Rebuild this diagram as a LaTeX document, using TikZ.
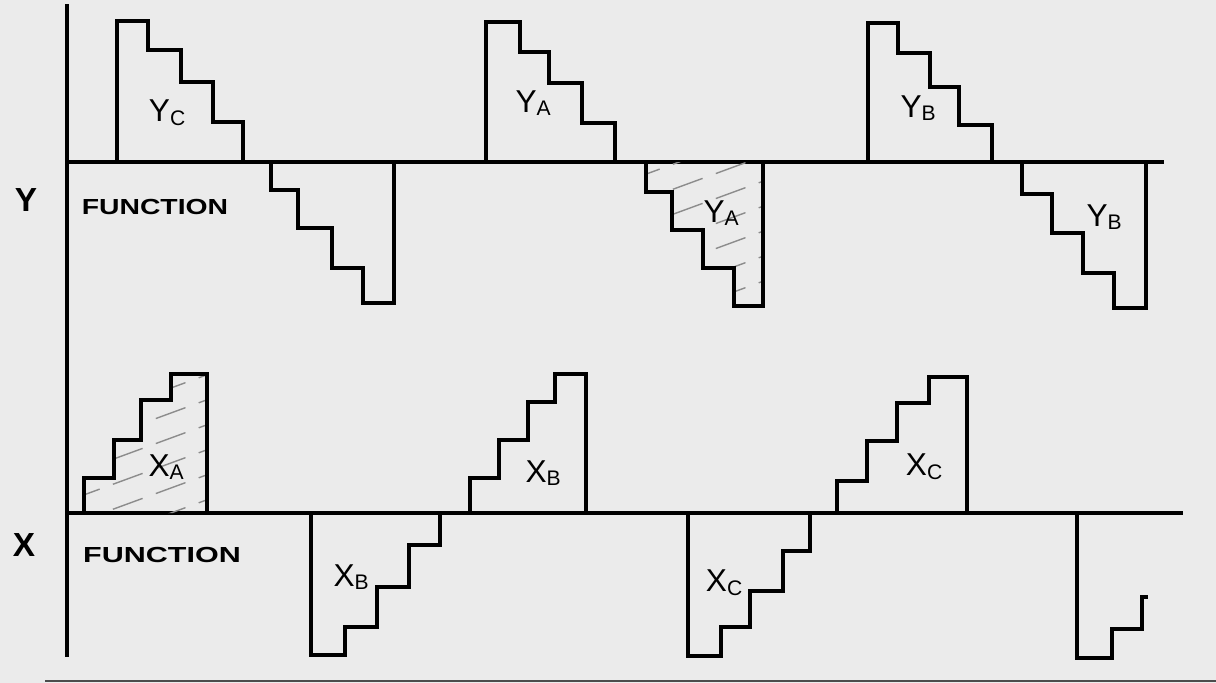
\documentclass[tikz,border=0pt]{standalone}
\usepackage{fontspec}
\setmainfont{Liberation Sans}
\usepackage{tikz}
\usetikzlibrary{positioning}

\tikzset{
  pulse/.style={line width=1.4pt, line join=miter},
  axisline/.style={line width=1.4pt},
  hatch/.style={black!45, dashed, dash pattern=on 9pt off 4pt, line width=0.4pt},
  lbl/.style={font=\fontsize{9}{10}\selectfont, inner sep=0pt},
  axlbl/.style={font=\fontsize{9.5}{10}\selectfont\bfseries, inner sep=0pt},
  fnlbl/.style={font=\fontsize{6.2}{7}\selectfont\bfseries, inner sep=0pt}
}

\begin{document}
\begin{tikzpicture}[x=0.1mm, y=-0.1mm]
  \useasboundingbox (0,0) rectangle (1216,683);
  \fill[black!8] (0,0) rectangle (1216,683);

  % axes
  \draw[axisline] (67,4)--(67,657);
  \draw[axisline] (67,162)--(1164,162);
  \draw[axisline] (67,513)--(1183,513);
  \draw[black!70, line width=0.5pt] (45,681)--(1216,681);

  % hatching
  \begin{scope}
    \clip (646,162)--(646,192)--(672,192)--(672,230)--(703,230)--(703,268)--(734,268)--(734,306)--(763,306)--(763,162)--cycle;
    \foreach \c in {180,205,...,380}
      \draw[hatch] (630,\c)--(780,\c-55);
  \end{scope}
  \begin{scope}
    \clip (84,513)--(84,478)--(114,478)--(114,440)--(141,440)--(141,400)--(171,400)--(171,374)--(207,374)--(207,513)--cycle;
    \foreach \c in {400,425,...,600}
      \draw[hatch] (70,\c)--(220,\c-55);
  \end{scope}

  % Y function
  \draw[pulse] (117,162)--(117,21)--(148,21)--(148,50)--(181,50)--(181,82)--(213,82)--(213,122)--(243,122)--(243,162);
  \draw[pulse] (486,162)--(486,22)--(520,22)--(520,52)--(549,52)--(549,83)--(582,83)--(582,123)--(615,123)--(615,162);
  \draw[pulse] (868,162)--(868,23)--(898,23)--(898,53)--(930,53)--(930,87)--(959,87)--(959,125)--(992,125)--(992,162);
  \draw[pulse] (271,162)--(271,190)--(298,190)--(298,228)--(332,228)--(332,268)--(363,268)--(363,303)--(394,303)--(394,162);
  \draw[pulse] (646,162)--(646,192)--(672,192)--(672,230)--(703,230)--(703,268)--(734,268)--(734,306)--(763,306)--(763,162);
  \draw[pulse] (1022,162)--(1022,194)--(1052,194)--(1052,233)--(1083,233)--(1083,273)--(1114,273)--(1114,308)--(1146,308)--(1146,162);

  % X function
  \draw[pulse] (84,513)--(84,478)--(114,478)--(114,440)--(141,440)--(141,400)--(171,400)--(171,374)--(207,374)--(207,513);
  \draw[pulse] (470,513)--(470,478)--(499,478)--(499,440)--(528,440)--(528,402)--(555,402)--(555,374)--(586,374)--(586,513);
  \draw[pulse] (837,513)--(837,481)--(867,481)--(867,441)--(897,441)--(897,403)--(929,403)--(929,377)--(967,377)--(967,513);
  \draw[pulse] (311,513)--(311,655)--(345,655)--(345,627)--(377,627)--(377,587)--(409,587)--(409,545)--(440,545)--(440,513);
  \draw[pulse] (688,513)--(688,656)--(721,656)--(721,627)--(750,627)--(750,591)--(783,591)--(783,551)--(810,551)--(810,513);
  \draw[pulse] (1077,513)--(1077,658)--(1112,658)--(1112,629)--(1142,629)--(1142,597)--(1148,597);

  % labels
  \node[axlbl] (yaxis) at (26,200) {Y};
  \node[axlbl] (xaxis) at (24,545) {X};
  \node[fnlbl] (yfn) at (155,207) {\scalebox{1.3}[1]{FUNCTION}};
  \node[fnlbl] (xfn) at (162,555) {\scalebox{1.4}[1]{FUNCTION}};
  \node[lbl] (yc) at (168,113) {Y\textsubscript{C}};
  \node[lbl] (yaup) at (534,103) {Y\textsubscript{A}};
  \node[lbl] (yadn) at (722,213) {Y\textsubscript{A}};
  \node[lbl] (ybup) at (919,108) {Y\textsubscript{B}};
  \node[lbl] (ybdn) at (1105,217) {Y\textsubscript{B}};
  \node[lbl] (xa) at (167,467) {X\textsubscript{A}};
  \node[lbl] (xbup) at (544,473) {X\textsubscript{B}};
  \node[lbl] (xcup) at (925,467) {X\textsubscript{C}};
  \node[lbl] (xbdn) at (352,577) {X\textsubscript{B}};
  \node[lbl] (xcdn) at (725,583) {X\textsubscript{C}};
\end{tikzpicture}
\end{document}
